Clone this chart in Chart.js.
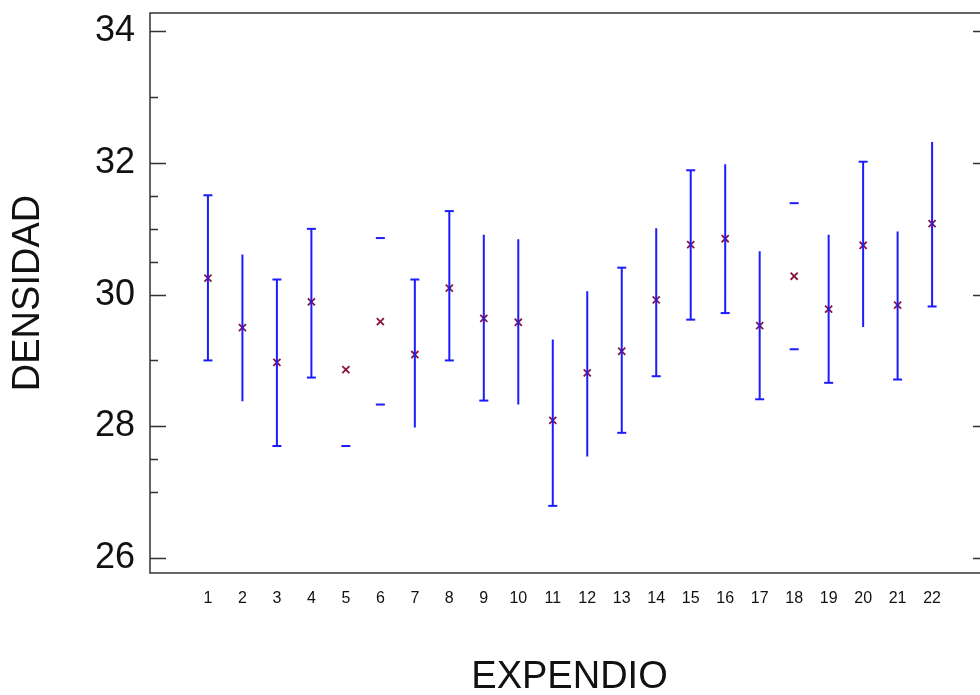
<!DOCTYPE html>
<html>
<head>
<meta charset="utf-8">
<script src="https://cdn.jsdelivr.net/npm/chart.js@4.4.1/dist/chart.umd.min.js"></script>
<style>
  html, body { margin: 0; padding: 0; background: #fff; overflow: hidden; }
  #wrap { width: 1000px; height: 695px; }
</style>
</head>
<body>
<div id="wrap"><canvas id="densidadChart" width="1000" height="695"></canvas></div>
<script>
/* =========================================
   Datos: densidad por expendio (media e intervalo)
   ========================================= */
var expendios = [1, 2, 3, 4, 5, 6, 7, 8, 9, 10, 11, 12, 13, 14, 15, 16, 17, 18, 19, 20, 21, 22];
var medias    = [30.25, 29.50, 28.97, 29.89, 28.86, 29.59, 29.09, 30.10, 29.64, 29.58, 28.09,
                 28.81, 29.14, 29.92, 30.76, 30.85, 29.53, 30.28, 29.78, 30.75, 29.84, 31.08];
var limiteSup = [31.51, 30.61, 30.23, 31.00, 30.02, 30.86, 30.23, 31.27, 30.91, 30.84, 29.32,
                 30.05, 30.41, 31.01, 31.89, 31.98, 30.66, 31.39, 30.91, 32.02, 30.96, 32.32];
var limiteInf = [29.00, 28.38, 27.70, 28.74, 27.70, 28.33, 27.98, 29.00, 28.39, 28.33, 26.79,
                 27.54, 27.90, 28.76, 29.62, 29.72, 28.41, 29.17, 28.66, 29.51, 28.71, 29.82];
// que partes del intervalo aparecen dibujadas en el grafico original
var conLinea  = [1, 1, 1, 1, 0, 0, 1, 1, 1, 1, 1, 1, 1, 1, 1, 1, 1, 0, 1, 1, 1, 1];
var conTapaSup = [1, 0, 1, 1, 0, 1, 1, 1, 0, 0, 0, 0, 1, 0, 1, 0, 0, 1, 0, 1, 0, 0];
var conTapaInf = [1, 0, 1, 1, 1, 1, 0, 1, 1, 0, 1, 0, 1, 1, 1, 1, 1, 1, 1, 0, 1, 1];

var yTicks = [26, 28, 30, 32, 34];
var yTicksMenores = [27, 27.5, 29, 30.5, 31, 31.5, 33];

var AZUL = '#1c1cff';
var GRANATE = '#8a1540';

// segmentos verticales separados por huecos (null)
var segmentos = [];
expendios.forEach(function(e, i) {
    if (!conLinea[i]) return;
    segmentos.push({ x: e, y: limiteInf[i] });
    segmentos.push({ x: e, y: limiteSup[i] });
    segmentos.push({ x: e, y: null });
});
var tapasSup = expendios.map(function(e, i) { return { x: e, y: conTapaSup[i] ? limiteSup[i] : null }; });
var tapasInf = expendios.map(function(e, i) { return { x: e, y: conTapaInf[i] ? limiteInf[i] : null }; });
var puntosMedia = expendios.map(function(e, i) { return { x: e, y: medias[i] }; });

// marco y marcas hacia dentro, como en el original
var marcoPlugin = {
    id: 'marco',
    afterDatasetsDraw: function(chart) {
        var ctx = chart.ctx, a = chart.chartArea, ys = chart.scales.y;
        ctx.save();
        ctx.strokeStyle = '#333';
        ctx.lineWidth = 1.5;
        ctx.strokeRect(a.left, a.top, a.right - a.left, a.bottom - a.top);
        ctx.beginPath();
        yTicks.forEach(function(v) {
            var py = Math.round(ys.getPixelForValue(v)) + 0.5;
            ctx.moveTo(a.left, py); ctx.lineTo(a.left + 16, py);
            ctx.moveTo(a.right, py); ctx.lineTo(a.right - 16, py);
        });
        yTicksMenores.forEach(function(v) {
            var py = Math.round(ys.getPixelForValue(v)) + 0.5;
            ctx.moveTo(a.left, py); ctx.lineTo(a.left + 8, py);
        });
        ctx.stroke();
        ctx.restore();
    }
};

var ctx = document.getElementById('densidadChart').getContext('2d');
var densidadChart = new Chart(ctx, {
    type: 'scatter',
    data: {
        datasets: [{
            type: 'line',
            label: 'Intervalo',
            data: segmentos,
            borderColor: AZUL,
            borderWidth: 2,
            pointRadius: 0,
            spanGaps: false,
            showLine: true
        }, {
            label: 'Tapa superior',
            data: tapasSup,
            pointStyle: 'line',
            pointRadius: 4.5,
            borderColor: AZUL,
            borderWidth: 2
        }, {
            label: 'Tapa inferior',
            data: tapasInf,
            pointStyle: 'line',
            pointRadius: 4.5,
            borderColor: AZUL,
            borderWidth: 2
        }, {
            label: 'Media',
            data: puntosMedia,
            pointStyle: 'crossRot',
            pointRadius: 5,
            borderColor: GRANATE,
            borderWidth: 1.8
        }]
    },
    options: {
        responsive: false,
        animation: false,
        layout: { padding: { top: 13, right: 11, left: 0, bottom: 0 } },
        plugins: {
            legend: { display: false },
            tooltip: { enabled: false }
        },
        scales: {
            x: {
                type: 'linear',
                min: -0.68,
                max: 23.65,
                grid: { display: false, drawTicks: false },
                border: { display: false },
                afterBuildTicks: function(scale) {
                    scale.ticks = expendios.map(function(v) { return { value: v }; });
                },
                afterFit: function(scale) {
                    scale.height = 122;
                    scale.paddingLeft = 0;
                    scale.paddingRight = 0;
                },
                ticks: {
                    padding: 16,
                    autoSkip: false,
                    maxRotation: 0,
                    color: '#111',
                    font: { family: "'Liberation Sans', Arial, sans-serif", size: 16 }
                },
                title: {
                    display: true,
                    text: 'EXPENDIO',
                    color: '#111',
                    padding: 0,
                    font: { family: "'Liberation Sans', Arial, sans-serif", size: 38, lineHeight: 0.9 }
                }
            },
            y: {
                min: 25.77,
                max: 34.28,
                grid: { display: false, drawTicks: false },
                border: { display: false },
                afterBuildTicks: function(scale) {
                    scale.ticks = yTicks.map(function(v) { return { value: v }; });
                },
                afterFit: function(scale) {
                    scale.width = 150;
                    scale.paddingTop = 0;
                    scale.paddingBottom = 0;
                },
                ticks: {
                    padding: 15,
                    color: '#111',
                    font: { family: "'Liberation Sans', Arial, sans-serif", size: 36 }
                },
                title: {
                    display: true,
                    text: 'DENSIDAD',
                    color: '#111',
                    padding: { top: 10, bottom: 0 },
                    font: { family: "'Liberation Sans', Arial, sans-serif", size: 38, lineHeight: 1 }
                }
            }
        }
    },
    plugins: [marcoPlugin]
});
</script>
</body>
</html>
